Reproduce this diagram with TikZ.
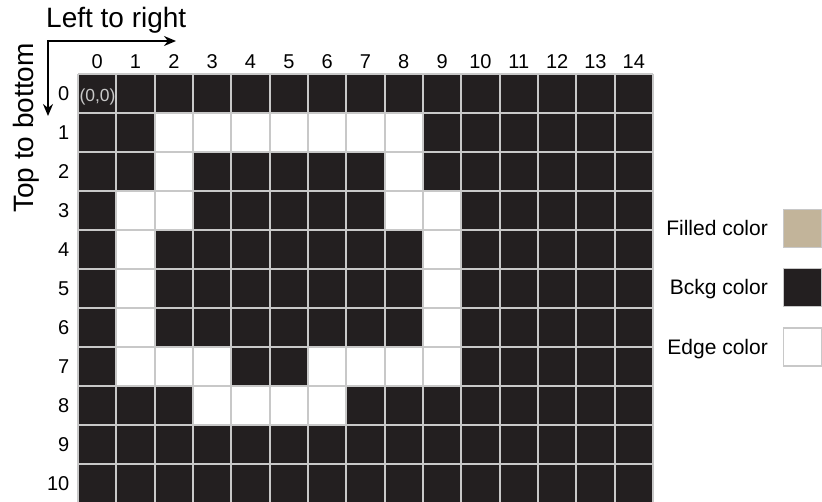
\documentclass[tikz,border=0pt]{standalone}
\usepackage{fontspec}
\setmainfont{Liberation Sans}
\usetikzlibrary{arrows.meta}
\definecolor{bckg}{HTML}{231F20}
\definecolor{filled}{HTML}{C2B49A}
\definecolor{gridgray}{HTML}{C8C8C8}
\tikzset{
  axis/.style={line width=1.6pt,{Stealth[length=12pt,width=10pt]}-{Stealth[length=12pt,width=10pt]}},
  idx/.style={font=\fontsize{20}{23}\selectfont,inner sep=0pt},
  title/.style={font=\fontsize{28}{31}\selectfont,inner sep=0pt},
  legtext/.style={font=\fontsize{21}{24}\selectfont,inner sep=0pt,anchor=base east},
  swatch/.style={draw=gridgray,line width=1.2pt,minimum size=38pt,inner sep=0pt},
  gridline/.style={draw=gridgray,line width=2pt}
}
\begin{document}
\begin{tikzpicture}[x=1pt,y=-1pt]
        \useasboundingbox (0,0) rectangle (822,501);
        \clip (0,0) rectangle (822,501);

        % Directions
        \coordinate (corner) at (48,41);
        \coordinate (rightend) at (176,41);
        \coordinate (downend) at (48,116);
        \draw[axis] (downend) -- (corner) -- (rightend);
        \node[title,anchor=base west] (ltr) at (46,27.3) {Left to right};
        \node[title,anchor=base west,rotate=90] (ttb) at (33.5,213) {Top to bottom};

        % Background cells
        \fill[bckg] (78,73.5) rectangle (653,502.5);

        % Edge cells (row/column)
        \foreach \r/\c in {1/2,1/3,1/4,1/5,1/6,1/7,1/8,
                           2/2,2/8,
                           3/1,3/2,3/8,3/9,
                           4/1,4/9,5/1,5/9,6/1,6/9,
                           7/1,7/2,7/3,7/6,7/7,7/8,7/9,
                           8/3,8/4,8/5,8/6}
            \fill[white] ({78+\c*38.33},{73.5+\r*39}) rectangle +(38.33,39);

        % Grid lines
        \foreach \c in {0,...,15}
            \draw[gridline] ({78+\c*38.33},73.5) -- ({78+\c*38.33},502.5);
        \foreach \r in {0,...,11}
            \draw[gridline] (78,{73.5+\r*39}) -- (653,{73.5+\r*39});

        % Column and row indices
        \foreach \c in {0,...,14}
            \node[idx,anchor=base] (c\c) at ({78+(\c+0.5)*38.33},68.5) {\c};
        \foreach \r in {0,...,10}
            \node[idx,anchor=base east] (r\r) at (69.5,{73.5+(\r+0.5)*39+7}) {\r};
        \node[font=\fontsize{17.5}{20}\selectfont,inner sep=0pt,anchor=base,text=gridgray] (origin) at (97.5,101) {(0,0)};

        % Legend
        \node[swatch,fill=filled] (fillsw) at (802.5,228.5) {};
        \node[swatch,fill=bckg] (bckgsw) at (802.5,287.5) {};
        \node[swatch,fill=white] (edgesw) at (802.5,347) {};
        \node[legtext] (filltxt) at (768,235.5) {Filled color};
        \node[legtext] (bckgtxt) at (768,294.5) {Bckg color};
        \node[legtext] (edgetxt) at (768,354) {Edge color};
    \end{tikzpicture}
\end{document}
